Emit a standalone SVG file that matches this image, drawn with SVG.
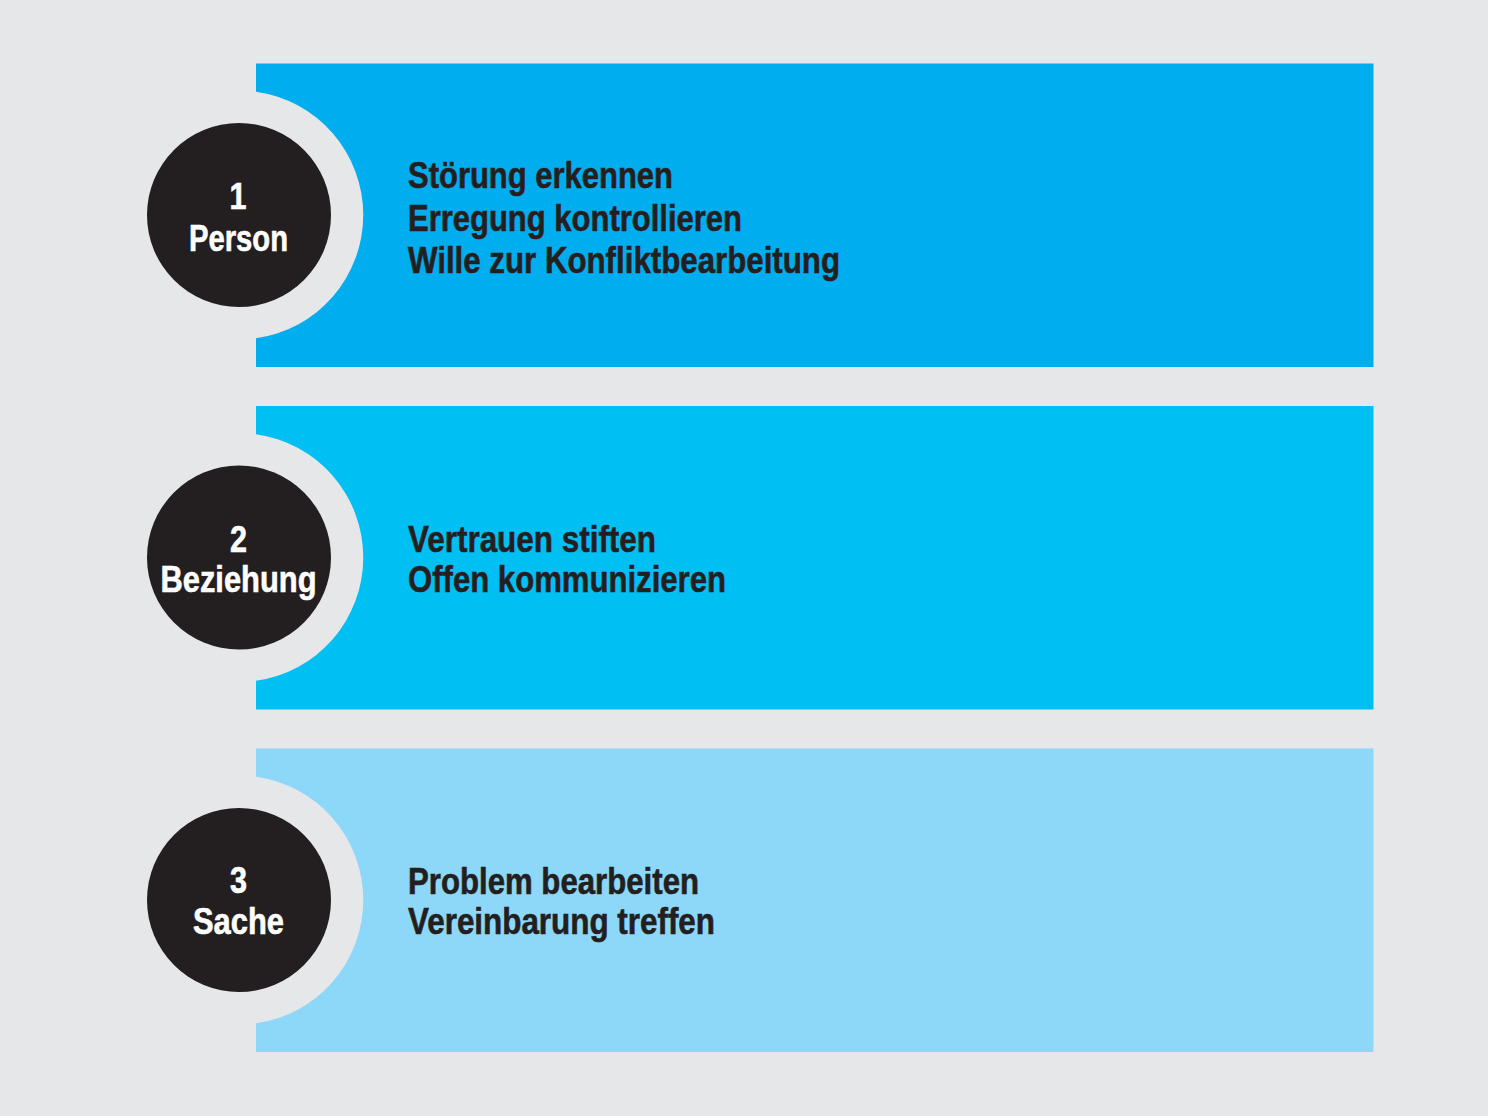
<svg xmlns="http://www.w3.org/2000/svg" width="1488" height="1116" viewBox="0 0 1488 1116">
<style>
.bg{fill:#e6e7e9}
.c{fill:#231f20}
.t{font-family:"Liberation Sans",Arial,sans-serif;font-weight:bold;font-size:36px;stroke-width:0.6px}
.w{fill:#ffffff;stroke:#ffffff;text-anchor:middle}
.d{fill:#231f20;stroke:#231f20}
</style>
<defs>
<path id="band" d="M256,63.5 H1373.5 V367 H256 V338.3 A124.5,124.5 0 0 0 256,91.7 Z"/>
</defs>
<rect class="bg" x="0" y="0" width="1488" height="1116"/>
<g id="node1">
<use href="#band" fill="#00adee"/>
<circle class="c" cx="239" cy="215" r="92"/>
<text class="t w" x="238" y="208.5" textLength="17" lengthAdjust="spacingAndGlyphs">1</text>
<text class="t w" x="238.5" y="251" textLength="99" lengthAdjust="spacingAndGlyphs">Person</text>
<text class="t d" x="408" y="188" textLength="265" lengthAdjust="spacingAndGlyphs">Störung erkennen</text>
<text class="t d" x="408" y="230.5" textLength="334" lengthAdjust="spacingAndGlyphs">Erregung kontrollieren</text>
<text class="t d" x="408" y="273" textLength="432" lengthAdjust="spacingAndGlyphs">Wille zur Konfliktbearbeitung</text>
</g>
<g id="node2" transform="translate(0,342.5)">
<use href="#band" fill="#00bff3"/>
<circle class="c" cx="239" cy="215" r="92"/>
<text class="t w" x="238.5" y="209" textLength="17" lengthAdjust="spacingAndGlyphs">2</text>
<text class="t w" x="238.5" y="249" textLength="156" lengthAdjust="spacingAndGlyphs">Beziehung</text>
<text class="t d" x="408" y="209" textLength="248" lengthAdjust="spacingAndGlyphs">Vertrauen stiften</text>
<text class="t d" x="408" y="249.5" textLength="318" lengthAdjust="spacingAndGlyphs">Offen kommunizieren</text>
</g>
<g id="node3" transform="translate(0,685)">
<use href="#band" fill="#8dd8f8"/>
<circle class="c" cx="239" cy="215" r="92"/>
<text class="t w" x="238.5" y="208" textLength="17" lengthAdjust="spacingAndGlyphs">3</text>
<text class="t w" x="238.5" y="248.5" textLength="91" lengthAdjust="spacingAndGlyphs">Sache</text>
<text class="t d" x="408" y="208.5" textLength="291" lengthAdjust="spacingAndGlyphs">Problem bearbeiten</text>
<text class="t d" x="408" y="248.5" textLength="307" lengthAdjust="spacingAndGlyphs">Vereinbarung treffen</text>
</g>
<g id="connectors"/>
</svg>
